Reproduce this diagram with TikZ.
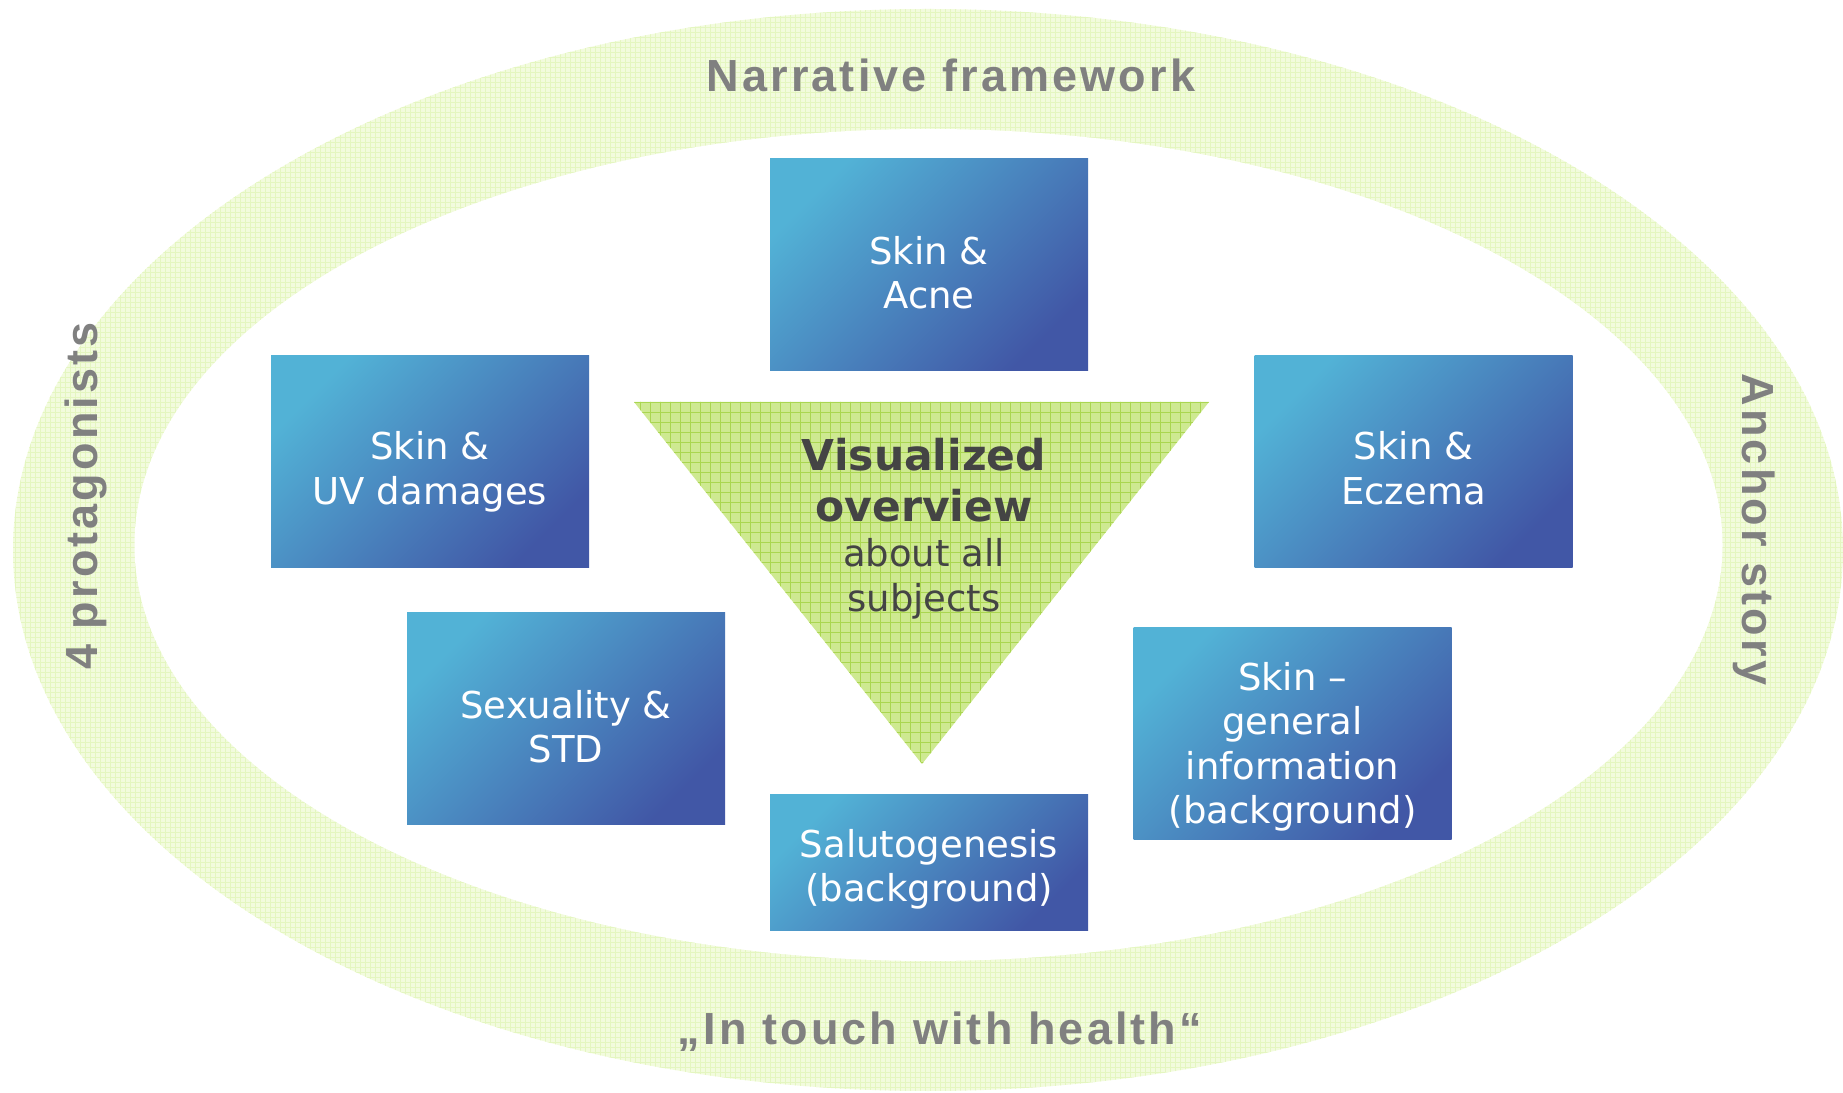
\documentclass[tikz,border=0pt]{standalone}
\usepackage{fontspec}
\setmainfont{DejaVu Sans}
\newfontfamily\ringfont[LetterSpace=7]{Liberation Sans}
\usepackage{tikz}
\definecolor{boxlight}{RGB}{82,178,214}
\definecolor{boxdark}{RGB}{65,87,166}
\definecolor{ringfill}{RGB}{242,251,221}
\definecolor{ringgrid}{RGB}{228,246,192}
\definecolor{trifill}{RGB}{206,233,145}
\definecolor{trigrid}{RGB}{170,214,80}
\definecolor{labelgray}{RGB}{128,128,128}
\definecolor{textdark}{RGB}{68,68,68}
\tikzset{
    %Define style for subject boxes
    subject/.style={
           rectangle,
           top color=boxlight, bottom color=boxdark, shading angle=45,
           text=white,
           minimum width=318, minimum height=212,
           inner sep=0pt,
           text height=85pt,
           text depth=0pt,
           align=center,
           font=\fontsize{37}{44.5}\selectfont},
    % Define style for ring texts
    ringtext/.style={
           text=labelgray,
           anchor=base,
           inner sep=0pt,
           font=\ringfont\bfseries\fontsize{45}{52}\selectfont}
}
\newcommand{\ovbold}{\bfseries\fontsize{42.5}{51}\selectfont}
\begin{document}
\begin{tikzpicture}[x=1pt, y=1pt,
ovtext/.style={text=textdark, align=center, inner sep=0pt, font=\fontsize{37}{45}\selectfont},
gridline/.style={line width=#1}
]
\useasboundingbox (0,0) rectangle (1843,1092);
%Ring
\fill[ringfill] (928,542) ellipse [x radius=915, y radius=541];
\begin{scope}
\clip (928,542) ellipse [x radius=915, y radius=541];
\draw[ringgrid, gridline=0.6pt, step=5pt] (0,0) grid (1843,1092);
\end{scope}
\fill[white] (928.5,547) ellipse [x radius=794, y radius=416];
%Triangle
\coordinate (tl) at (634,690);
\coordinate (tr) at (1209,690);
\coordinate (tb) at (922,328);
\fill[trifill] (tl) -- (tr) -- (tb) -- cycle;
\begin{scope}
\clip (tl) -- (tr) -- (tb) -- cycle;
\draw[trigrid, gridline=0.8pt, step=10pt] (630,320) grid (1215,695);
\end{scope}
\node[ovtext] (overview) at (924,563) {\ovbold Visualized\\[6pt]\ovbold overview\\about all\\subjects};
%Nodes
\node[subject, text height=87.5pt] (acne) at (929,827) {Skin \&\\Acne};
\node[subject] (uv) at (430,630) {Skin \&\\UV damages};
\node[subject] (eczema) at (1413.5,630) {Skin \&\\Eczema};
\node[subject, text height=87.5pt] (sexuality) at (566,373) {Sexuality \&\\STD};
\node[subject, minimum height=136, text height=78pt] (saluto) at (929,229) {Salutogenesis\\(background)};
\node[subject, text height=179.5pt] (general) at (1292.5,358) {Skin –\\general\\information\\(background)};
%Ring texts
\node[ringtext] (narrative) at (951,1000) {Narrative framework};
\node[ringtext] (touch) at (940,48) {„In touch with health“};
\node[ringtext, rotate=90] (protagonists) at (97,596) {4 protagonists};
\node[ringtext, rotate=-90] (anchor) at (1742,562.5) {Anchor story};
\end{tikzpicture}
\end{document}
